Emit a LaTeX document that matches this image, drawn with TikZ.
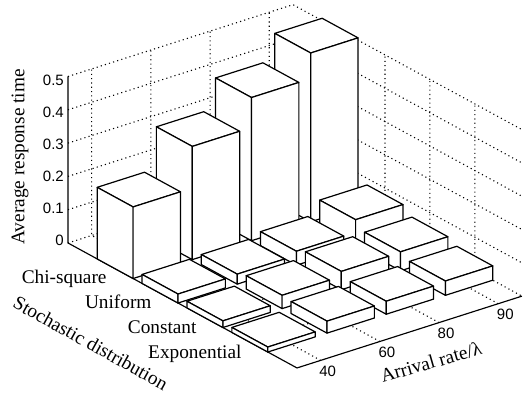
\documentclass[tikz,border=0pt]{standalone}
\usepackage{fontspec}
\setmainfont{Liberation Serif}
\newfontfamily\tickfont{Liberation Sans}
\tikzset{
  barline/.style={draw=black, fill=white, line width=1.2pt, line join=round},
  gridline/.style={draw=black, line width=1.1pt, dash pattern=on 1.1pt off 3.2pt},
  axisline/.style={draw=black, line width=1.15pt},
  ticklab/.style={font=\tickfont\fontsize{15}{18}\selectfont, inner sep=0pt},
  serlab/.style={font=\fontsize{19.3}{23}\selectfont, inner sep=0pt}
}
\newcommand\mybar[3]{%
  \filldraw[barline] ({#1-0.4},{#2-0.4},#3) -- ({#1+0.4},{#2-0.4},#3) -- ({#1+0.4},{#2+0.4},#3) -- ({#1-0.4},{#2+0.4},#3) -- cycle;
  \filldraw[barline] ({#1-0.4},{#2-0.4},0) -- ({#1-0.4},{#2+0.4},0) -- ({#1-0.4},{#2+0.4},#3) -- ({#1-0.4},{#2-0.4},#3) -- cycle;
  \filldraw[barline] ({#1-0.4},{#2+0.4},0) -- ({#1+0.4},{#2+0.4},0) -- ({#1+0.4},{#2+0.4},#3) -- ({#1-0.4},{#2+0.4},#3) -- cycle;
}
\begin{document}
\begin{tikzpicture}[x=1pt,y=1pt]
\useasboundingbox (0,0) rectangle (525,394);
\fill[white] (0,0) rectangle (525,394);
\begin{scope}[shift={(34.725pt,138.435pt)}, x={(59.2pt,18.9pt)}, y={(44.9pt,-24.5pt)}, z={(0pt,333pt)}]
  % z gridlines on both back walls
  \foreach \c in {0,0.1,0.2,0.3,0.4,0.5} {
    \draw[gridline] (0.6,-0.05,\c) -- (4.4,-0.05,\c) -- (4.4,5.05,\c);
  }
  % column gridlines (floor + back-left wall)
  \foreach \a in {1,2,3,4} {
    \draw[gridline] (\a,5.05,0) -- (\a,-0.05,0) -- (\a,-0.05,0.5);
  }
  % row gridlines (floor + back-right wall)
  \foreach \b in {1,2,3,4} {
    \draw[gridline] (0.6,\b,0) -- (4.4,\b,0) -- (4.4,\b,0.5);
  }
  % axes
  \coordinate (zbot) at (0.6,-0.05,0);
  \coordinate (ztop) at (0.6,-0.05,0.5);
  \coordinate (front) at (0.6,5.05,0);
  \coordinate (right) at (4.4,5.05,0);
  \draw[axisline] (ztop) -- (zbot) -- (front) -- (right);
  % bars, far to near
  \mybar{4}{1}{0.507}
  \mybar{3}{1}{0.43}
  \mybar{4}{2}{0.08}
  \mybar{2}{1}{0.34}
  \mybar{3}{2}{0.042}
  \mybar{4}{3}{0.057}
  \mybar{1}{1}{0.215}
  \mybar{2}{2}{0.03}
  \mybar{3}{3}{0.055}
  \mybar{4}{4}{0.043}
  \mybar{1}{2}{0.027}
  \mybar{2}{3}{0.04}
  \mybar{3}{4}{0.039}
  \mybar{1}{3}{0.02}
  \mybar{2}{4}{0.036}
  \mybar{1}{4}{0.015}
  % arrival rate tick labels
  \node[ticklab, xshift=7pt, yshift=-11pt] (t40) at (1,5.05,0) {40};
  \node[ticklab, xshift=7pt, yshift=-11pt] (t60) at (2,5.05,0) {60};
  \node[ticklab, xshift=7pt, yshift=-11pt] (t80) at (3,5.05,0) {80};
  \node[ticklab, xshift=7pt, yshift=-11pt] (t90) at (4,5.05,0) {90};
\end{scope}
% z tick labels
\node[ticklab, anchor=east] (z0) at (64,153.5) {0};
\node[ticklab, anchor=east] (z1) at (64,185.6) {0.1};
\node[ticklab, anchor=east] (z2) at (64,217.7) {0.2};
\node[ticklab, anchor=east] (z3) at (64,249.8) {0.3};
\node[ticklab, anchor=east] (z4) at (64,281.9) {0.4};
\node[ticklab, anchor=east] (z5) at (64,314.0) {0.5};
% row labels
\node[serlab, anchor=base east] (r1) at (106.7,110.7) {Chi-square};
\node[serlab, anchor=base east] (r2) at (151.7,85.7) {Uniform};
\node[serlab, anchor=base east] (r3) at (196.7,60.7) {Constant};
\node[serlab, anchor=base east] (r4) at (241.7,35.7) {Exponential};
% axis titles
\node[serlab, rotate=-29] (ylab) at (90.7,51) {Stochastic distribution};
\node[serlab, rotate=16] (xlab) at (431,32) {Arrival rate/λ};
\node[serlab, rotate=90] (zlab) at (20,237) {Average response time};
\end{tikzpicture}
\end{document}
